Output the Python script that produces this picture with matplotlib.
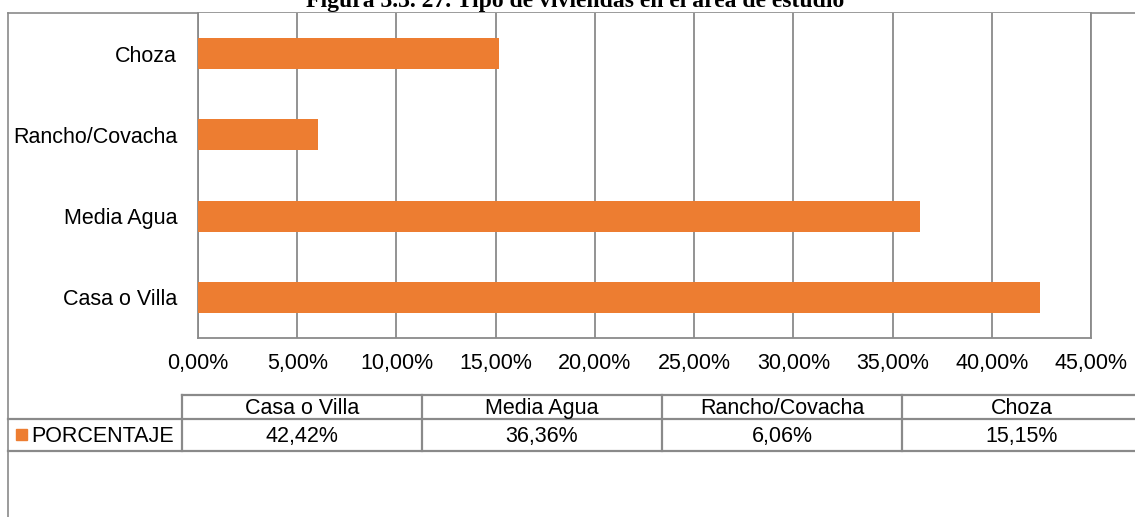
import numpy as np
import matplotlib
matplotlib.use("Agg")
import matplotlib.pyplot as plt
from matplotlib.ticker import FuncFormatter

# data
categories = ["Casa o Villa", "Media Agua", "Rancho/Covacha", "Choza"]
porcentaje = [42.42, 36.36, 6.06, 15.15]
serie = "PORCENTAJE"
titulo = "Figura 3.3. 27. Tipo de viviendas en el área de estudio"

W, H = 1135, 517
naranja = "#ED7D31"
gris = "#8a8a8a"
fs = 15.5
plt.rcParams["font.family"] = ["Liberation Sans", "DejaVu Sans"]

fig = plt.figure(figsize=(W / 100, H / 100), dpi=100)

# overlay in pixel coords for border, title and data table
bg = fig.add_axes([0, 0, 1, 1], zorder=0)
bg.set_xlim(0, W)
bg.set_ylim(H, 0)
bg.axis("off")

# outer chart border (cropped on right/bottom)
bg.plot([8, 8], [13, H + 5], color=gris, lw=1.2)
bg.plot([8, W + 5], [13, 13], color=gris, lw=1.2)

bg.text(575, 7, titulo, ha="center", va="baseline", fontsize=17,
        fontweight="bold", family=["Liberation Serif", "DejaVu Serif"])

# main bar chart
x0, x1, y0, y1 = 198, 1091, 13, 338
ax = fig.add_axes([x0 / W, 1 - y1 / H, (x1 - x0) / W, (y1 - y0) / H], zorder=1)
ypos = np.arange(len(categories))
ax.barh(ypos, porcentaje, height=0.38, color=naranja, zorder=3)
ax.set_xlim(0, 45)
ax.set_ylim(-0.5, len(categories) - 0.5)
ax.set_xticks(np.arange(0, 46, 5))
ax.xaxis.set_major_formatter(FuncFormatter(lambda v, p: f"{v:.2f}%".replace(".", ",")))
ax.set_yticks(ypos)
ax.set_yticklabels(categories)
ax.grid(axis="x", color=gris, lw=1.3, zorder=0)
ax.tick_params(axis="x", length=0, pad=11, labelsize=fs, colors="black")
ax.tick_params(axis="y", length=0, pad=15, labelsize=fs)
ax.spines["top"].set_visible(False)
for s in ["left", "bottom", "right"]:
    ax.spines[s].set_color(gris)
    ax.spines[s].set_linewidth(1.3)

# data table
col0, colw = 182, 240
t_top, t_mid, t_bot = 395, 419, 451
bg.plot([col0, W + 5], [t_top, t_top], color=gris, lw=1.6)
bg.plot([8, W + 5], [t_mid, t_mid], color=gris, lw=1.6)
bg.plot([8, W + 5], [t_bot, t_bot], color=gris, lw=1.6)
for i in range(len(categories) + 1):
    xc = col0 + i * colw
    bg.plot([xc, xc], [t_top, t_bot], color=gris, lw=1.6)
for i, (cat, val) in enumerate(zip(categories, porcentaje)):
    xc = col0 + (i + 0.5) * colw
    bg.text(xc, 414, cat, ha="center", va="baseline", fontsize=fs)
    bg.text(xc, 442, f"{val:.2f}%".replace(".", ","),
            ha="center", va="baseline", fontsize=fs)
bg.add_patch(plt.Rectangle((16, 429), 11, 11, color=naranja))
bg.text(31, 442, serie, ha="left", va="baseline", fontsize=fs)

fig.savefig("out.png", dpi=100)
